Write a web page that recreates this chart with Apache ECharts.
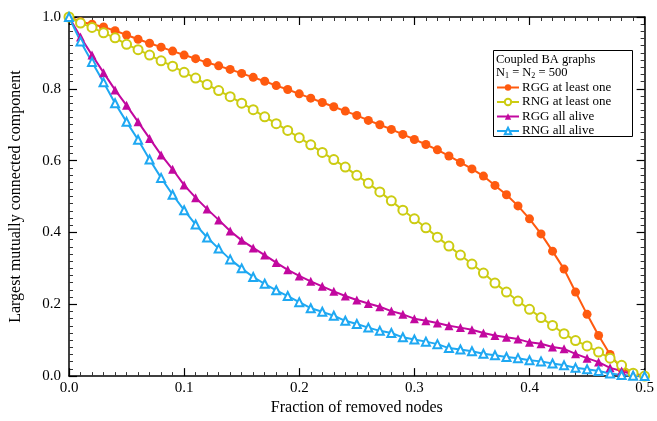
<!DOCTYPE html>
<html>
<head>
<meta charset="utf-8">
<script src="https://cdn.jsdelivr.net/npm/echarts@6/dist/echarts.min.js"></script>
<style>
  html, body { margin: 0; padding: 0; background: #fff; }
  #chart { width: 657px; height: 421px; }
</style>
</head>
<body>
<div id="chart"></div>
<script>
// fraction of removed nodes, step 0.01
const fractions = [0, 0.01, 0.02, 0.03, 0.04, 0.05, 0.06, 0.07, 0.08, 0.09,
  0.10, 0.11, 0.12, 0.13, 0.14, 0.15, 0.16, 0.17, 0.18, 0.19,
  0.20, 0.21, 0.22, 0.23, 0.24, 0.25, 0.26, 0.27, 0.28, 0.29,
  0.30, 0.31, 0.32, 0.33, 0.34, 0.35, 0.36, 0.37, 0.38, 0.39,
  0.40, 0.41, 0.42, 0.43, 0.44, 0.45, 0.46, 0.47, 0.48, 0.49, 0.50]

const rggAtLeastOne = [1.0, 0.987, 0.980, 0.972, 0.962, 0.950, 0.938, 0.927, 0.916, 0.905,
  0.894, 0.884, 0.873, 0.864, 0.854, 0.843, 0.832, 0.821, 0.809, 0.798,
  0.786, 0.774, 0.762, 0.750, 0.738, 0.726, 0.712, 0.700, 0.687, 0.673,
  0.659, 0.645, 0.630, 0.613, 0.595, 0.577, 0.557, 0.531, 0.505, 0.474,
  0.438, 0.396, 0.348, 0.298, 0.234, 0.172, 0.113, 0.060, 0.021, 0.007, 0.0]

const rngAtLeastOne = [1.0, 0.983, 0.971, 0.956, 0.942, 0.924, 0.909, 0.894, 0.878, 0.863,
  0.846, 0.830, 0.812, 0.795, 0.778, 0.760, 0.742, 0.722, 0.703, 0.684,
  0.664, 0.644, 0.623, 0.603, 0.582, 0.559, 0.537, 0.513, 0.488, 0.462,
  0.438, 0.413, 0.387, 0.362, 0.337, 0.312, 0.287, 0.259, 0.234, 0.209,
  0.186, 0.163, 0.141, 0.118, 0.099, 0.084, 0.067, 0.050, 0.030, 0.008, 0.0]

const rggAllAlive = [1.0, 0.944, 0.894, 0.845, 0.797, 0.754, 0.708, 0.662, 0.616, 0.576,
  0.532, 0.497, 0.465, 0.435, 0.404, 0.378, 0.357, 0.337, 0.316, 0.296,
  0.279, 0.264, 0.250, 0.236, 0.223, 0.212, 0.202, 0.193, 0.181, 0.172,
  0.160, 0.154, 0.148, 0.140, 0.135, 0.129, 0.120, 0.113, 0.108, 0.103,
  0.094, 0.090, 0.081, 0.076, 0.062, 0.050, 0.039, 0.023, 0.014, 0.004, 0.0]

const rngAllAlive = [1.0, 0.932, 0.875, 0.818, 0.760, 0.708, 0.658, 0.603, 0.552, 0.505,
  0.462, 0.422, 0.386, 0.355, 0.325, 0.300, 0.276, 0.257, 0.239, 0.223,
  0.206, 0.189, 0.179, 0.168, 0.154, 0.145, 0.135, 0.126, 0.120, 0.108,
  0.102, 0.096, 0.089, 0.078, 0.074, 0.069, 0.062, 0.058, 0.053, 0.050,
  0.044, 0.041, 0.035, 0.030, 0.023, 0.019, 0.014, 0.007, 0.003, 0.001, 0.0]

const seriesDefs = [
  { name: 'RGG at least one', values: rggAtLeastOne, color: '#ff5a0f', symbol: 'circle', size: 9 },
  { name: 'RNG at least one', values: rngAtLeastOne, color: '#cccc12', symbol: 'emptyCircle', size: 9 },
  { name: 'RGG all alive', values: rggAllAlive, color: '#c2089f', symbol: 'triangle', size: 9 },
  { name: 'RNG all alive', values: rngAllAlive, color: '#1ea8f2', symbol: 'emptyTriangle', size: 8 }
]

const serif = '"Liberation Serif", "DejaVu Serif", serif'

const chart = echarts.init(document.getElementById('chart'))

// axis settings shared by the main and mirror axes
const tickStyle = (show) => ({
  axisLine: { show: true, onZero: false, lineStyle: { color: '#000', width: 1.5 } },
  axisTick: { show: true, inside: true, length: 8, lineStyle: { color: '#000', width: 1.2 } },
  minorTick: { show: true, splitNumber: 10, length: 4, lineStyle: { color: '#333', width: 1 } },
  splitLine: { show: false },
  axisLabel: show
    ? { show: true, color: '#000', fontFamily: serif, fontSize: 15, formatter: v => v.toFixed(1) }
    : { show: false }
})

const option = {
  backgroundColor: '#fff',
  animation: false,
  grid: { left: 67, right: 9, top: 17, bottom: 40 },
  xAxis: [
    Object.assign({
      type: 'value', min: 0, max: 0.5, interval: 0.1, position: 'bottom',
      name: 'Fraction of removed nodes', nameLocation: 'middle', nameGap: 23,
      nameTextStyle: { color: '#000', fontFamily: serif, fontSize: 16 }
    }, tickStyle(true), { axisLabel: { show: true, color: '#000', fontFamily: serif, fontSize: 15, margin: 4, formatter: v => v.toFixed(1) } }),
    Object.assign({ type: 'value', min: 0, max: 0.5, interval: 0.1, position: 'top' }, tickStyle(false))
  ],
  yAxis: [
    Object.assign({
      type: 'value', min: 0, max: 1, interval: 0.2, position: 'left',
      name: 'Largest mutually connected component', nameLocation: 'middle', nameGap: 45,
      nameTextStyle: { color: '#000', fontFamily: serif, fontSize: 16 }
    }, tickStyle(true)),
    Object.assign({ type: 'value', min: 0, max: 1, interval: 0.2, position: 'right' }, tickStyle(false))
  ],
  legend: {
    orient: 'vertical',
    left: 496,
    top: 81,
    itemWidth: 22,
    itemHeight: 8,
    itemGap: 1.5,
    padding: 0,
    textStyle: { color: '#000', fontFamily: serif, fontSize: 13, lineHeight: 12, padding: [0, 0, 0, -2] },
    data: seriesDefs.map(s => s.name)
  },
  graphic: [
    {
      type: 'rect', left: 493, top: 50, z: 0,
      shape: { width: 139, height: 86 },
      style: { fill: '#fff', stroke: '#000', lineWidth: 1 }
    },
    {
      type: 'text', left: 496, top: 53, z: 10,
      style: { text: 'Coupled BA graphs', fill: '#000', font: '12.5px ' + serif }
    },
    {
      type: 'text', left: 496, top: 66, z: 10,
      style: {
        text: '{n|N}{s|1}{n| = N}{s|2}{n| = 500}',
        rich: {
          n: { fill: '#000', fontFamily: serif, fontSize: 12.5 },
          s: { fill: '#000', fontFamily: serif, fontSize: 8, padding: [6, 0, 0, 0] }
        }
      }
    }
  ],
  series: seriesDefs.map(s => ({
    name: s.name,
    type: 'line',
    xAxisIndex: 0,
    yAxisIndex: 0,
    clip: false,
    data: fractions.map((f, i) => [f, s.values[i]]),
    symbol: s.symbol,
    symbolSize: s.size,
    lineStyle: { color: s.color, width: 2 },
    itemStyle: { color: s.color, borderColor: s.color, borderWidth: s.symbol.indexOf('empty') === 0 ? 1.2 : 0 },
    z: 3
  }))
}

chart.setOption(option)
</script>
</body>
</html>
